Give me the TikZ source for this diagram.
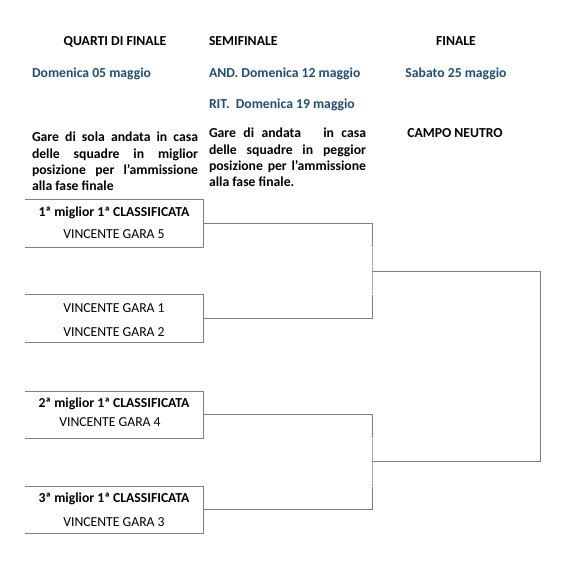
\documentclass[tikz,border=0pt]{standalone}
\usepackage{fontspec}
\setmainfont{Carlito}
\definecolor{hdblue}{RGB}{31,78,121}
\definecolor{lngray}{RGB}{128,128,128}
\begin{document}
\begin{tikzpicture}[x=1pt,y=-1pt,
  every node/.style={inner sep=0pt, outer sep=0pt},
  txt/.style={font=\fontsize{13.7}{16}\selectfont, anchor=base},
  bold/.style={txt, font=\fontsize{13.7}{16}\selectfont\bfseries},
  date/.style={bold, text=hdblue},
  para/.style={anchor=north west, font=\fontsize{13.7}{16.4}\selectfont\bfseries},
  frame/.style={draw=none, minimum width=178pt, anchor=north west},
  edge/.style={draw=lngray, line width=1pt},
  gap/.style={draw=white, line width=1.2pt}
]
\useasboundingbox (0,0) rectangle (569,569);

% headers
\node[bold] (hq) at (115,46) {QUARTI DI FINALE};
\node[bold, anchor=base west] (hs) at (209,46) {SEMIFINALE};
\node[bold] (hf) at (456,46) {FINALE};
\node[date, anchor=base west] (dq) at (32,78) {Domenica 05 maggio};
\node[date, anchor=base west] (ds) at (209,78) {AND. Domenica 12 maggio};
\node[date] (df) at (456,78) {Sabato 25 maggio};
\node[date, anchor=base west] (dr) at (209,109) {RIT.\ \ Domenica 19 maggio};

% descriptions
\node[para] (pq) at (32,132) {\parbox[t]{166pt}{Gare di sola andata in casa\linebreak delle squadre in miglior\linebreak posizione per l’ammissione\linebreak alla fase finale}};
\node[para] (ps) at (209,128) {\parbox[t]{157pt}{Gare di andata\ \ \ in casa\linebreak delle squadre in peggior\linebreak posizione per l’ammissione\linebreak alla fase finale.}};
\node[bold] (cn) at (455,138) {CAMPO NEUTRO};

% boxes
\node[frame, minimum height=48pt] (b1) at (25,199) {};
\node[frame, minimum height=48pt] (b2) at (25,294) {};
\node[frame, minimum height=47pt] (b3) at (25,391) {};
\node[frame, minimum height=47pt] (b4) at (25,486) {};
\foreach \b in {b1,b2,b3,b4}
  \draw[edge] (\b.north west) -- (\b.north east) -- (\b.south east) -- (\b.south west);

\node[bold] (t1a) at (114,216) {1ª miglior 1ª CLASSIFICATA};
\node[txt]  (t1b) at (114,238) {VINCENTE GARA 5};
\node[txt]  (t2a) at (114,312) {VINCENTE GARA 1};
\node[txt]  (t2b) at (114,336) {VINCENTE GARA 2};
\node[bold] (t3a) at (114,407) {2ª miglior 1ª CLASSIFICATA};
\node[txt]  (t3b) at (110,426) {VINCENTE GARA 4};
\node[bold] (t4a) at (114,502) {3ª miglior 1ª CLASSIFICATA};
\node[txt]  (t4b) at (114,526) {VINCENTE GARA 3};

% bracket
\coordinate (s1) at (372,271);
\coordinate (s2) at (372,461.5);
\coordinate (f) at (540,366);
\draw[edge] (b1.east) -| (s1) |- (b2.east);
\draw[edge] (b3.east) -| (s2) |- (b4.east);
\draw[edge] (s1) -| (f) |- (s2);
\draw[gap] (372,247) -- +(0,0.1);
\draw[gap] (372,294) -- +(0,0.1);
\draw[gap] (372,438) -- +(0,0.1);
\draw[gap] (372,486) -- +(0,0.1);
\end{tikzpicture}
\end{document}
